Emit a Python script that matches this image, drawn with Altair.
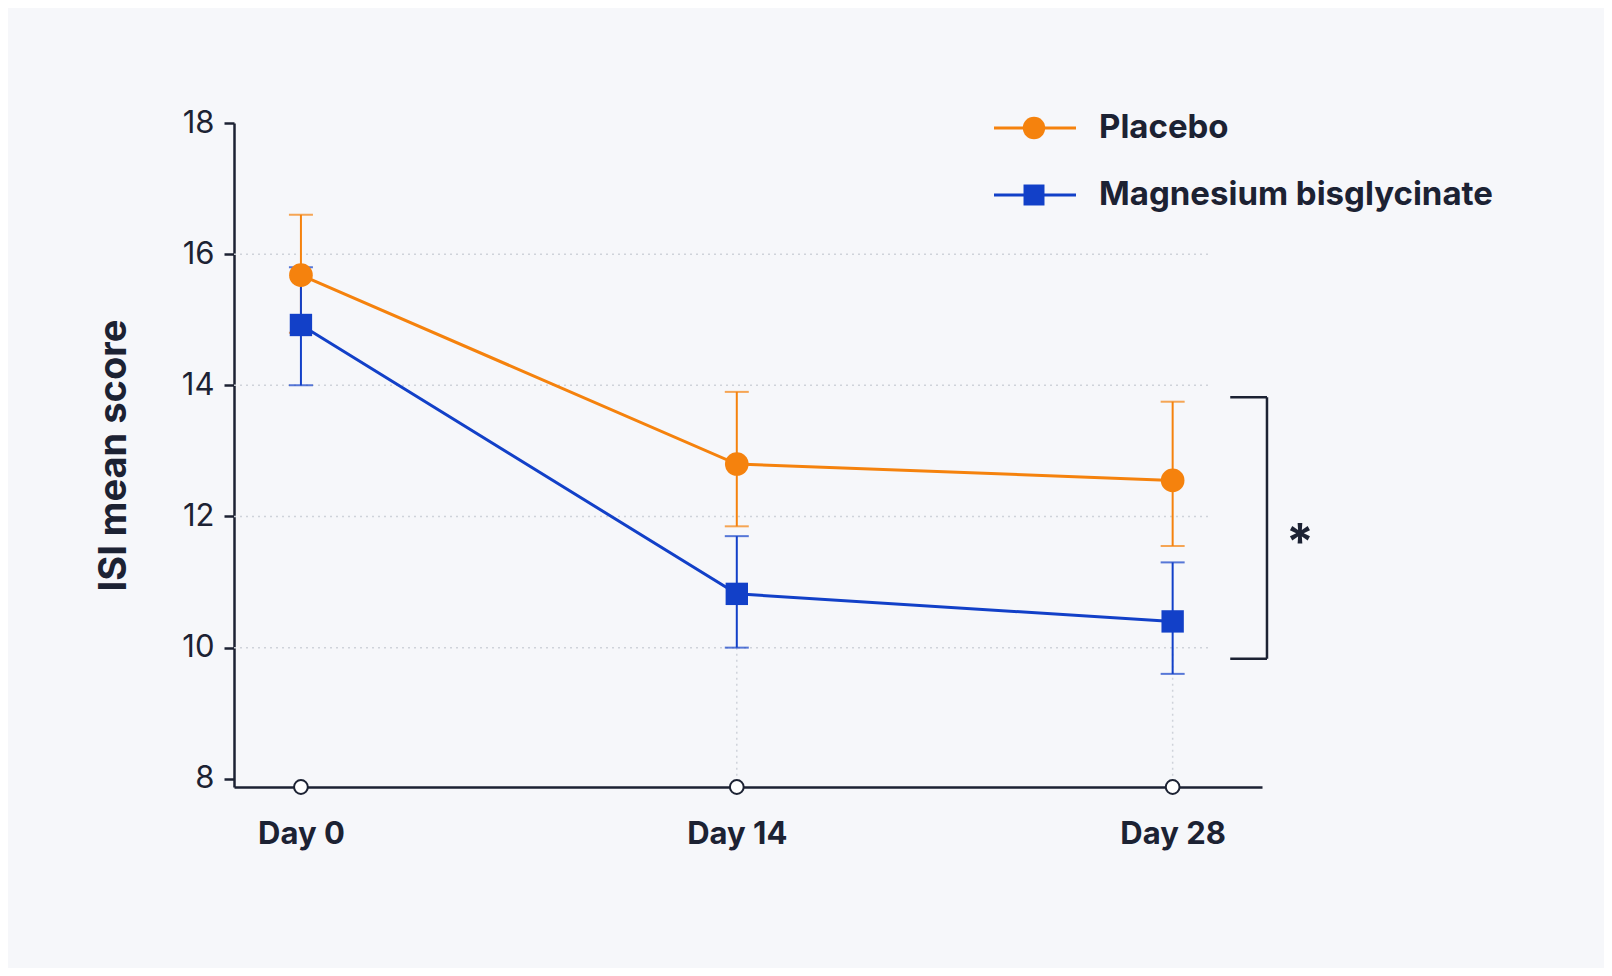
import altair as alt
import pandas as pd

days = [0, 14, 28]
day_labels = ["Day 0", "Day 14", "Day 28"]
groups = ["Placebo", "Magnesium bisglycinate"]
placebo_mean = [15.68, 12.8, 12.55]
placebo_hi = [16.6, 13.9, 13.75]
placebo_lo = [14.8, 11.85, 11.55]
mg_mean = [14.92, 10.82, 10.4]
mg_hi = [15.8, 11.7, 11.3]
mg_lo = [14.0, 10.0, 9.6]
grid_values = [10, 12, 14, 16]

colors = ["#f5820d", "#1240c8"]
FONT = "Inter"
INK = "#1c2233"

rows = []
for g, m, hi, lo in [(groups[0], placebo_mean, placebo_hi, placebo_lo),
                     (groups[1], mg_mean, mg_hi, mg_lo)]:
    for d, lab, a, b, c in zip(days, day_labels, m, hi, lo):
        rows.append({"group": g, "day": d, "label": lab, "mean": a, "hi": b, "lo": c})
df = pd.DataFrame(rows)

xs = alt.Scale(domain=[-2.15, 30.87], nice=False, zero=False)
ys = alt.Scale(domain=[7.875, 18], nice=False, zero=False)
col = alt.Color("group:N", scale=alt.Scale(domain=groups, range=colors), legend=None)
X = alt.X("day:Q", scale=xs, title=None,
          axis=alt.Axis(values=days, labelExpr="'Day ' + datum.value", grid=False,
                        ticks=False, domainColor=INK, domainWidth=2.5,
                        labelFont=FONT, labelFontSize=31, labelFontWeight="bold",
                        labelColor=INK, labelPadding=32))
Y = alt.Y("mean:Q", scale=ys, title="ISI mean score",
          axis=alt.Axis(values=[8, 10, 12, 14, 16, 18], format="d", grid=False, tickSize=10,
                        tickWidth=2.5, tickColor=INK, domainColor=INK,
                        domainWidth=2.5, labelFont=FONT, labelFontSize=31,
                        labelColor=INK, labelPadding=10, titleFont=FONT,
                        titleFontSize=38, titleFontWeight="bold", titleColor=INK,
                        titlePadding=48))

grid = alt.Chart(pd.DataFrame({"v": grid_values})).mark_rule(
    color="#cfd3da", strokeDash=[2, 4], strokeWidth=1.5
).encode(y=alt.Y("v:Q", scale=ys), x=alt.value(0), x2=alt.value(978))

vgrid = alt.Chart(pd.DataFrame({"day": days[1:], "a": [10, 10], "b": [7.875, 7.875]})).mark_rule(
    color="#cfd3da", strokeDash=[2, 4], strokeWidth=1.5
).encode(x=alt.X("day:Q", scale=xs), y=alt.Y("a:Q", scale=ys), y2="b:Q")

base = alt.Chart(df)
err = base.mark_rule(strokeWidth=2).encode(x=alt.X("day:Q", scale=xs), y=alt.Y("lo:Q", scale=ys), y2="hi:Q", color=col)
cap_hi = base.mark_tick(orient="horizontal", size=24, thickness=2).encode(x=alt.X("day:Q", scale=xs), y=alt.Y("hi:Q", scale=ys), color=col)
cap_lo = base.mark_tick(orient="horizontal", size=24, thickness=2).encode(x=alt.X("day:Q", scale=xs), y=alt.Y("lo:Q", scale=ys), color=col)
line = base.mark_line(strokeWidth=3).encode(x=X, y=Y, color=col, detail="group:N")
pts_p = base.transform_filter(alt.datum.group == groups[0]).mark_circle(size=560, opacity=1).encode(
    x=alt.X("day:Q", scale=xs), y=alt.Y("mean:Q", scale=ys), color=col)
pts_m = base.transform_filter(alt.datum.group == groups[1]).mark_square(size=500, opacity=1).encode(
    x=alt.X("day:Q", scale=xs), y=alt.Y("mean:Q", scale=ys), color=col)

axis_pts = alt.Chart(pd.DataFrame({"day": days, "v": [7.875] * 3})).mark_point(
    filled=True, fill="white", stroke=INK, strokeWidth=2, size=190, opacity=1
).encode(x=alt.X("day:Q", scale=xs), y=alt.Y("v:Q", scale=ys))

# significance bracket
br = pd.DataFrame({"x1": [29.85], "x2": [31.03], "top": [13.82], "bot": [9.83], "mid": [11.8]})
bc = alt.Chart(br)
b_v = bc.mark_rule(color=INK, strokeWidth=2.5).encode(x=alt.X("x2:Q", scale=xs), y=alt.Y("top:Q", scale=ys), y2="bot:Q")
b_t = bc.mark_rule(color=INK, strokeWidth=2.5).encode(x=alt.X("x1:Q", scale=xs), x2="x2:Q", y=alt.Y("top:Q", scale=ys))
b_b = bc.mark_rule(color=INK, strokeWidth=2.5).encode(x=alt.X("x1:Q", scale=xs), x2="x2:Q", y=alt.Y("bot:Q", scale=ys))
star = bc.mark_text(text="*", font=FONT, fontSize=50, fontWeight="bold", color=INK, dx=33, dy=14).encode(
    x=alt.X("x2:Q", scale=xs), y=alt.Y("mid:Q", scale=ys))

# legend
leg = pd.DataFrame({"group": groups, "ly": [5, 72]})
lc = alt.Chart(leg)
l_line = lc.mark_rule(strokeWidth=3).encode(x=alt.value(760), x2=alt.value(842), y=alt.Y("ly:Q", scale=None), color=col)
l_c = lc.transform_filter(alt.datum.group == groups[0]).mark_circle(size=500, opacity=1).encode(
    x=alt.value(800), y=alt.Y("ly:Q", scale=None), color=col)
l_s = lc.transform_filter(alt.datum.group == groups[1]).mark_square(size=440, opacity=1).encode(
    x=alt.value(800), y=alt.Y("ly:Q", scale=None), color=col)
l_t = lc.mark_text(align="left", baseline="middle", font=FONT, fontSize=33, fontWeight="bold",
                   color=INK).encode(x=alt.value(865), y=alt.Y("ly:Q", scale=None), text="group:N")

chart = alt.layer(
    grid, vgrid, err, cap_hi, cap_lo, line, pts_p, pts_m, axis_pts,
    b_v, b_t, b_b, star, l_line, l_c, l_s, l_t
).properties(
    width=1028, height=664,
    autosize=alt.AutoSizeParams(type="none"),
    padding={"left": 226, "top": 115, "right": 342, "bottom": 181},
    background="#f6f7fa",
).configure_view(stroke=None)

chart.save("out.html", embed_options={"renderer": "svg", "actions": False})
